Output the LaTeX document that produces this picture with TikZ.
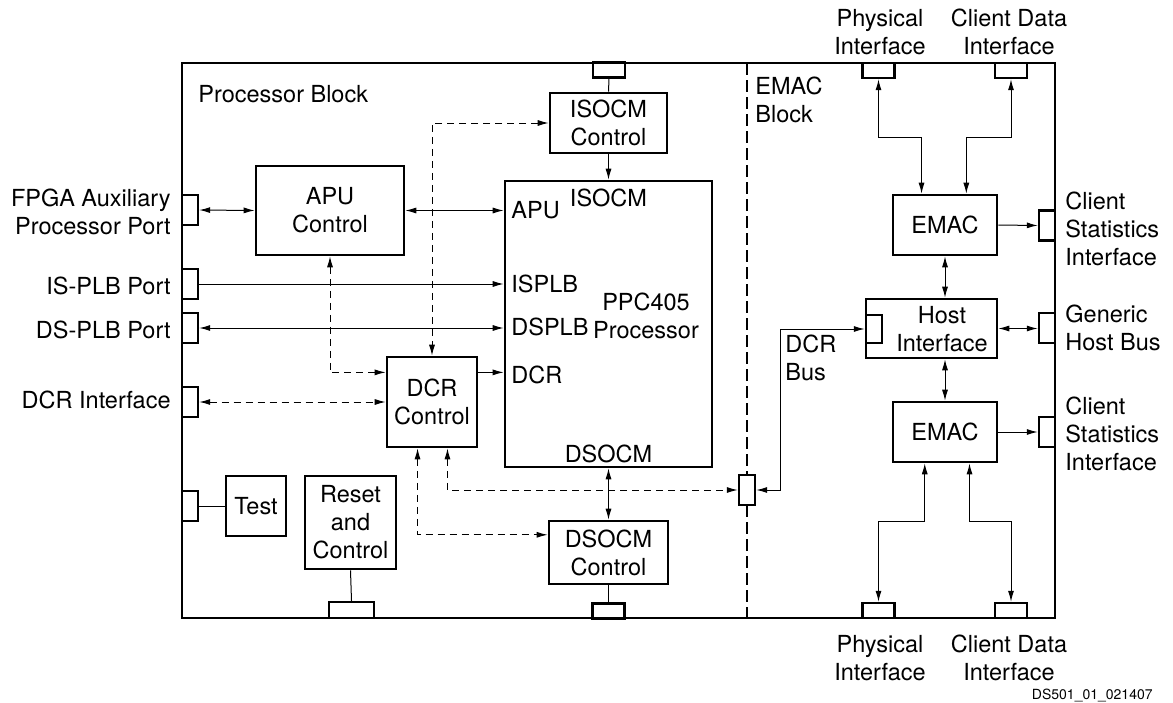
\documentclass[tikz,border=0pt]{standalone}
\usepackage{fontspec}
\setmainfont{TeX Gyre Heros}
\usetikzlibrary{arrows.meta, positioning, calc}

\begin{document}
\begin{tikzpicture}[x=0.5pt, y=-0.5pt,
    blk/.style 2 args={draw, line width=1.3pt, minimum width=#1, minimum height=#2, inner sep=0pt, align=center, font=\fontsize{11.75}{14}\selectfont},
    port/.style 2 args={draw, fill=white, line width=1.2pt, minimum width=#1, minimum height=#2, inner sep=0pt},
    hport/.style={port={16pt}{7.5pt}},
    vport/.style={port={8pt}{15pt}},
    lbl/.style={inner sep=0pt, font=\fontsize{11.75}{14}\selectfont},
    tag/.style={inner sep=0pt, font=\fontsize{7}{8}\selectfont},
    link/.style={line width=0.5pt},
    arr/.style={-{Latex[length=5.5pt, width=3pt]}, line width=0.5pt},
    darr/.style={{Latex[length=5.5pt, width=3pt]}-{Latex[length=5.5pt, width=3pt]}, line width=0.5pt},
    dsh/.style={darr, dash pattern=on 3.5pt off 2.5pt},
    sep/.style={line width=1.2pt, dash pattern=on 6pt off 2.5pt},
]
\useasboundingbox (0,0) rectangle (1173,702);

% Outer frame and divider
\node[draw, line width=1.3pt, minimum width=436.5pt, minimum height=277.5pt, inner sep=0pt] (frame) at (618.5,340.5) {};
\draw[sep] (747,63) -- (747,618);
\node[lbl, anchor=base west] (pbtitle) at (198,102) {Processor Block};
\node[lbl, anchor=north west, align=left] (ebtitle) at (755,77) {EMAC\\Block};

% Processor block
\node[blk={58.5pt}{30pt}] (isocm) at (608.5,123) {ISOCM\\Control};
\node[blk={103.5pt}{143pt}] (ppc) at (608.5,324) {};
\node[blk={74pt}{44.5pt}] (apu) at (330,210.5) {APU\\Control};
\node[blk={45pt}{45pt}] (dcr) at (432,402) {DCR\\Control};
\node[blk={59.5pt}{31.5pt}] (dsocm) at (608.5,552.5) {DSOCM\\Control};
\node[blk={30pt}{30pt}] (test) at (256,506) {Test};
\node[blk={45.5pt}{46.5pt}] (reset) at (350.5,522.5) {Reset\\and\\Control};

% Processor pins
\node[lbl, anchor=north] (ppcisocm) at (608.5,189) {ISOCM};
\node[lbl, anchor=base west] (ppcapu) at (511,218) {APU};
\node[lbl, anchor=base west] (ppcisplb) at (511,292) {ISPLB};
\node[lbl, anchor=base west] (ppcdsplb) at (511,335) {DSPLB};
\node[lbl, anchor=base west] (ppcdcr) at (511,383) {DCR};
\node[lbl, anchor=base] (ppcdsocm) at (608.5,462) {DSOCM};
\node[lbl, anchor=north, align=center] (ppcname) at (646,293) {PPC405\\Processor};

% Ports of the processor block
\node[hport] (isoport) at (609,70) {};
\node[vport] (fpgaport) at (190,210) {};
\node[vport] (isplbport) at (190,284) {};
\node[vport] (dsplbport) at (190,328) {};
\node[vport] (dcrport) at (190,402) {};
\node[vport] (testport) at (190,506) {};
\node[port={22.5pt}{8pt}] (resetport) at (351.5,610) {};
\node[hport] (dsocmport) at (608.5,611) {};
\node[vport] (dcrbusport) at (747,490) {};

% EMAC block
\node[blk={52pt}{30pt}] (emacA) at (945,225) {EMAC};
\node[blk={65.5pt}{29.5pt}] (host) at (931.5,328.5) {};
\node[lbl, align=center] (hosttxt) at (942,329) {Host\\Interface};
\node[blk={52pt}{30pt}] (emacB) at (945,432) {EMAC};
\node[port={8pt}{14pt}] (hostport) at (874,329) {};
\node[hport] (physA) at (878.5,70.5) {};
\node[hport] (cdA) at (1011,70.5) {};
\node[hport] (physB) at (878.5,610.5) {};
\node[hport] (cdB) at (1011,610.5) {};
\node[vport] (statA) at (1047,225.5) {};
\node[vport] (genport) at (1047,328) {};
\node[vport] (statB) at (1047,432) {};

% Outside labels
\node[lbl, anchor=north, align=center] (physAtxt) at (880,9) {Physical\\Interface};
\node[lbl, anchor=north, align=center] (cdAtxt) at (1009,9) {Client Data\\Interface};
\node[lbl, anchor=north, align=center] (physBtxt) at (880,635) {Physical\\Interface};
\node[lbl, anchor=north, align=center] (cdBtxt) at (1009,635) {Client Data\\Interface};
\node[lbl, anchor=north west, align=left] (statAtxt) at (1065,192) {Client\\Statistics\\Interface};
\node[lbl, anchor=north west, align=left] (gentxt) at (1065,305) {Generic\\Host Bus};
\node[lbl, anchor=north west, align=left] (statBtxt) at (1065,397) {Client\\Statistics\\Interface};
\node[lbl, anchor=north east, align=right] (fpgatxt) at (171,189) {FPGA Auxiliary\\Processor Port};
\node[lbl, anchor=base east] (isplbtxt) at (171,294) {IS-PLB Port};
\node[lbl, anchor=base east] (dsplbtxt) at (171,338) {DS-PLB Port};
\node[lbl, anchor=base east] (dcrtxt) at (171,408) {DCR Interface};
\node[lbl, anchor=north west, align=left] (dcrbustxt) at (785,335) {DCR\\Bus};
\node[tag, anchor=base east] (dsid) at (1153,699) {DS501\_01\_021407};

% Tap points on box edges
\coordinate (dcrout) at ($(dcr.north east)!0.18!(dcr.south east)$);
\coordinate (dcrin) at ($(dcr.north west)!0.18!(dcr.south west)$);
\coordinate (dcrbusa) at ($(dcr.south west)!0.667!(dcr.south east)$);
\coordinate (dcrbusb) at ($(dcr.south west)!0.344!(dcr.south east)$);
\coordinate (dsocmin) at ($(dsocm.north west)!0.23!(dsocm.south west)$);

% Processor block connections
\draw[link] (isoport.south) -- (isocm.north);
\draw[arr] (isocm.south) -- (ppc.north);
\draw[darr] (fpgaport.east) -- (apu.west);
\draw[darr] (apu.east) -- (apu.east -| ppc.west);
\draw[arr] (isplbport.east) -- (isplbport.east -| ppc.west);
\draw[darr] (dsplbport.east) -- (dsplbport.east -| ppc.west);
\draw[arr] (dcrout) -- (dcrout -| ppc.west);
\draw[darr] (ppc.south) -- (dsocm.north);
\draw[link] (dsocm.south) -- (dsocmport.north);
\draw[link] (testport.east) -- (test.west);
\draw[link] (reset.south) -- (resetport.north);

% DCR paths
\draw[dsh] (apu.south) |- (dcrin);
\draw[dsh] (isocm.west) -| (dcr.north);
\draw[dsh] (dcrport.east) -- (dcr.west);
\draw[dsh] (dcrbusa) |- (dcrbusport.west);
\draw[dsh] (dcrbusb) |- (dsocmin);
\draw[darr] (dcrbusport.east) -- ++(24,0) |- (hostport.west);

% EMAC connections
\draw[darr] (emacA.south) -- (emacA.south |- host.north);
\draw[darr] (emacB.north) -- (emacB.north |- host.south);
\draw[arr] (emacA.east) -- (statA.west);
\draw[arr] (emacB.east) -- (statB.west);
\draw[darr] (host.east) -- (host.east -| genport.west);
\draw[darr] (physA.south) -- ++(0,58) -| ($(emacA.north west)!0.28!(emacA.north east)$);
\draw[darr] (cdA.south) -- ++(0,58) -| ($(emacA.north west)!0.70!(emacA.north east)$);
\draw[darr] ($(emacB.south west)!0.31!(emacB.south east)$) -- ++(0,58) -| (physB.north);
\draw[darr] ($(emacB.south west)!0.73!(emacB.south east)$) -- ++(0,58) -| (cdB.north);

\end{tikzpicture}
\end{document}
